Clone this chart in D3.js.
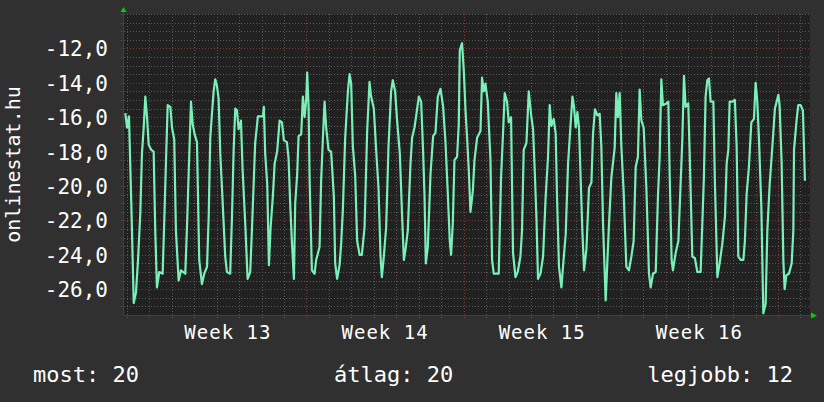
<!DOCTYPE html>
<html>
<head>
<meta charset="utf-8">
<script src="https://cdn.jsdelivr.net/npm/d3@7"></script>
<style>
body { margin: 0; background: #303030; }
svg { display: block; }
text { font-family: "DejaVu Sans Mono", monospace; fill: #ffffff; }
</style>
</head>
<body>
<div id="chart"></div>
<script>
// series: hours since the start of the graph, and the measured value at that time
var startTime = Date.UTC( 2011, 2, 26, 21, 0 );
var spanHours = 733.2;

var hours = [
	1.4, 3.2, 5.3, 7.8, 10.4, 12.8, 15.0, 17.4, 19.2, 21.0,
	22.8, 24.6, 26.4, 29.2, 31.7, 33.4, 35.2, 37.7, 41.3, 43.0,
	44.9, 46.7, 49.5, 51.3, 53.7, 55.5, 58.4, 60.9, 65.5, 67.3,
	69.1, 71.6, 73.4, 75.5, 78.0, 80.4, 83.3, 85.8, 88.7, 90.5,
	92.2, 94.0, 95.8, 97.5, 99.3, 101.1, 102.9, 104.7, 108.2, 110.0,
	113.5, 115.4, 117.2, 118.9, 120.7, 122.5, 125.0, 126.8, 129.6, 132.1,
	134.9, 136.7, 140.2, 143.1, 148.5, 149.5, 150.9, 153.1, 154.9, 156.7,
	159.1, 161.0, 163.7, 166.3, 168.8, 170.9, 174.1, 175.9, 177.6, 179.4,
	181.6, 183.0, 185.1, 186.6, 189.4, 191.2, 193.0, 194.7, 195.8, 197.3,
	198.4, 200.8, 203.7, 205.4, 209.0, 210.7, 212.6, 214.4, 216.1, 218.6,
	221.4, 224.3, 225.7, 227.8, 230.4, 232.1, 233.9, 236.4, 239.3, 241.1,
	242.8, 244.6, 247.1, 249.2, 251.8, 254.2, 257.1, 259.9, 262.4, 264.1,
	267.0, 269.5, 272.0, 274.2, 275.6, 277.7, 280.2, 282.7, 285.5, 287.3,
	289.8, 291.9, 294.8, 297.3, 299.1, 300.9, 303.3, 306.2, 307.9, 310.5,
	312.6, 315.1, 317.6, 319.7, 321.2, 322.6, 324.7, 327.6, 330.4, 332.9,
	335.4, 338.3, 341.1, 343.6, 346.1, 348.2, 349.6, 351.4, 353.2, 356.0,
	357.8, 358.9, 361.3, 363.2, 365.0, 366.7, 368.5, 370.3, 372.8, 374.6,
	377.4, 381.0, 382.7, 384.5, 386.3, 388.8, 391.7, 393.4, 395.2, 400.5,
	403.0, 405.1, 406.9, 409.4, 411.2, 413.7, 415.8, 418.4, 420.8, 423.7,
	425.4, 427.2, 430.1, 432.6, 435.2, 437.2, 439.0, 440.8, 442.5, 445.1,
	447.9, 450.7, 453.2, 455.0, 456.8, 459.3, 461.4, 462.8, 464.9, 467.5,
	469.2, 472.1, 474.6, 477.1, 479.3, 481.0, 482.8, 484.6, 486.3, 487.8,
	489.9, 491.7, 494.2, 497.0, 499.6, 501.3, 503.4, 506.0, 508.4, 510.2,
	512.0, 514.8, 516.7, 518.4, 520.9, 524.4, 526.2, 527.9, 529.8, 531.6,
	534.0, 536.9, 539.7, 542.3, 544.7, 546.9, 549.3, 551.1, 553.0, 555.4,
	558.3, 561.1, 562.9, 565.4, 568.3, 570.7, 572.5, 574.3, 576.0, 579.7,
	581.8, 583.2, 585.3, 586.7, 589.6, 592.5, 594.9, 596.7, 598.5, 600.3,
	603.1, 604.9, 607.4, 610.2, 612.8, 616.3, 618.1, 619.8, 621.6, 623.5,
	625.2, 627.0, 629.9, 631.6, 634.2, 636.6, 639.5, 642.3, 644.1, 645.9,
	647.3, 650.2, 652.9, 654.8, 656.6, 659.1, 662.0, 663.6, 665.5, 667.9,
	670.5, 673.3, 675.1, 676.9, 678.6, 681.2, 683.3, 685.8, 687.6, 690.1,
	692.2, 693.6, 695.7, 699.4, 700.7, 702.9, 704.7, 706.1, 707.9, 710.7,
	713.6, 715.4, 716.1, 719.0, 720.7, 723.2, 725.6, 727.8
];

var values = [
	-15.76, -16.6, -15.95, -21.0, -26.8, -26.2, -24.3, -21.6, -18.1, -16.65,
	-14.8, -16.0, -17.6, -17.9, -18.0, -22.6, -25.9, -25.0, -25.1, -22.1,
	-18.5, -15.3, -15.4, -16.6, -17.3, -22.6, -25.5, -24.9, -25.1, -22.4,
	-19.3, -15.1, -16.4, -17.0, -17.45, -24.3, -25.7, -25.1, -24.7, -21.8,
	-17.2, -15.8, -14.5, -13.8, -14.15, -14.9, -18.1, -20.1, -24.1, -25.0,
	-25.1, -21.8, -17.9, -15.5, -15.6, -16.7, -16.2, -19.1, -22.2, -25.4,
	-25.0, -22.6, -17.5, -15.95, -15.95, -15.4, -18.1, -19.9, -24.6, -22.4,
	-20.6, -18.7, -18.0, -16.2, -16.3, -17.35, -17.45, -18.4, -21.0, -23.2,
	-25.4, -21.0, -19.3, -17.1, -17.0, -14.8, -16.0, -15.0, -13.4, -15.4,
	-19.7, -24.9, -25.1, -24.3, -23.55, -19.7, -17.2, -15.1, -16.6, -17.9,
	-18.0, -20.6, -24.5, -25.4, -24.6, -23.35, -21.4, -17.2, -14.5, -13.5,
	-14.05, -17.7, -19.4, -23.2, -24.0, -24.0, -22.4, -16.8, -13.95, -14.8,
	-15.5, -17.9, -20.1, -24.1, -25.3, -24.1, -22.4, -17.7, -14.5, -13.85,
	-14.5, -16.2, -18.1, -21.8, -24.3, -23.7, -22.6, -18.7, -17.2, -16.6,
	-15.8, -14.8, -15.1, -18.0, -20.6, -24.5, -23.55, -19.3, -17.1, -16.9,
	-14.8, -14.35, -15.4, -17.45, -20.45, -23.2, -24.0, -22.2, -18.5, -18.3,
	-16.4, -12.1, -11.7, -13.3, -15.6, -17.2, -19.1, -21.5, -20.3, -18.5,
	-17.2, -16.8, -13.7, -14.5, -14.05, -15.1, -18.5, -24.3, -25.1, -25.1,
	-19.5, -16.95, -14.6, -15.1, -16.3, -16.0, -23.9, -25.3, -25.0, -24.1,
	-22.6, -17.9, -17.5, -14.5, -15.9, -16.7, -19.1, -21.8, -25.4, -25.1,
	-24.1, -20.6, -18.3, -15.3, -16.5, -16.1, -16.95, -20.6, -24.7, -25.9,
	-24.7, -22.8, -18.7, -16.6, -14.8, -15.4, -16.6, -15.7, -16.6, -19.1,
	-22.6, -24.9, -23.7, -20.1, -19.8, -16.95, -15.55, -15.9, -15.8, -17.7,
	-22.2, -26.65, -24.3, -22.2, -19.5, -17.8, -14.6, -16.0, -14.6, -17.7,
	-20.3, -24.7, -24.9, -24.1, -23.2, -18.9, -18.3, -14.4, -16.2, -16.6,
	-20.1, -25.1, -25.9, -25.1, -25.0, -20.6, -18.3, -13.8, -15.3, -15.2,
	-15.1, -19.3, -24.3, -24.9, -23.9, -23.2, -19.9, -17.35, -13.6, -15.4,
	-15.2, -18.7, -24.1, -24.2, -25.0, -25.0, -22.2, -19.5, -14.8, -13.85,
	-13.75, -15.1, -15.1, -19.9, -25.3, -24.5, -23.35, -21.8, -18.7, -17.9,
	-15.1, -15.1, -15.0, -17.7, -24.1, -24.3, -24.3, -23.2, -20.45, -18.9,
	-16.3, -16.1, -14.0, -15.1, -17.2, -21.2, -27.4, -26.85, -22.6, -19.9,
	-18.3, -17.2, -15.5, -14.7, -15.3, -18.7, -24.3, -26.0, -25.2, -25.1,
	-24.5, -22.6, -17.9, -16.1, -15.3, -15.3, -15.6, -19.7
];

var yDomain = [ -27.5, -10 ];
var yTicks = [ -26, -24, -22, -20, -18, -16, -14, -12 ];
var axisTitle = "onlinestat.hu";
var weekPrefix = "Week ";
var legendNames = [ "most", "átlag", "legjobb" ];
var legendValues = [ 20, 20, 12 ];

// set the dimensions and margins of the graph
var W = 824,
	H = 402;
var margin = {
		top: 14,
		right: 14,
		bottom: 87,
		left: 124
	},
	width = W - margin.left - margin.right,
	height = H - margin.top - margin.bottom;

var t0 = new Date( startTime ),
	t1 = new Date( startTime + spanHours * 3600e3 );

var x = d3.scaleUtc()
	.domain( [ t0, t1 ] )
	.range( [ 0, width ] );

var y = d3.scaleLinear()
	.domain( yDomain )
	.range( [ height, 0 ] );

var locale = d3.formatLocale( {
	decimal: ",",
	thousands: " ",
	grouping: [ 3 ],
	currency: [ "", "" ],
	minus: "-"
} );
var yFormat = locale.format( ".1f" );
var weekFormat = d3.utcFormat( "%V" );

var data = hours.map( function( h, i ) {
	return {
		time: new Date( startTime + h * 3600e3 ),
		value: values[ i ]
	};
} );

var svg = d3.select( "#chart" )
	.append( "svg" )
	.attr( "width", W )
	.attr( "height", H );

svg.append( "rect" )
	.attr( "width", W )
	.attr( "height", H )
	.attr( "fill", "#303030" );

var g = svg.append( "g" )
	.attr( "transform", "translate(" + margin.left + "," + margin.top + ")" );

// plot background
g.append( "rect" )
	.attr( "width", width )
	.attr( "height", height )
	.attr( "fill", "#212121" );

// grid values
var mondays = d3.utcMonday.range( t0, t1 );
var days = d3.utcDay.range( t0, t1 ).filter( function( d ) {
	return d.getUTCDay() !== 1;
} );
var minorY = d3.range( yDomain[ 0 ] + 0.5, yDomain[ 1 ] + 0.01, 0.5 ).filter( function( v ) {
	return yTicks.indexOf( v ) < 0;
} );

var minorColor = "#585858",
	majorColor = "#803a3a";

// minor grid
g.selectAll( ".vminor" )
	.data( days )
	.enter()
	.append( "line" )
	.attr( "class", "vminor" )
	.attr( "x1", function( d ) { return Math.round( x( d ) ) + 0.5; } )
	.attr( "x2", function( d ) { return Math.round( x( d ) ) + 0.5; } )
	.attr( "y1", 0 )
	.attr( "y2", height + 3 )
	.attr( "stroke", minorColor )
	.attr( "stroke-dasharray", "1,2" );

g.selectAll( ".hminor" )
	.data( minorY )
	.enter()
	.append( "line" )
	.attr( "class", "hminor" )
	.attr( "x1", -3 )
	.attr( "x2", width )
	.attr( "y1", function( d ) { return Math.round( y( d ) ) + 0.5; } )
	.attr( "y2", function( d ) { return Math.round( y( d ) ) + 0.5; } )
	.attr( "stroke", minorColor )
	.attr( "stroke-dasharray", "1,2" );

// major grid
g.selectAll( ".vmajor" )
	.data( mondays )
	.enter()
	.append( "line" )
	.attr( "class", "vmajor" )
	.attr( "x1", function( d ) { return Math.round( x( d ) ) + 0.5; } )
	.attr( "x2", function( d ) { return Math.round( x( d ) ) + 0.5; } )
	.attr( "y1", 0 )
	.attr( "y2", height + 3 )
	.attr( "stroke", majorColor )
	.attr( "stroke-dasharray", "1,2" );

g.selectAll( ".hmajor" )
	.data( yTicks )
	.enter()
	.append( "line" )
	.attr( "class", "hmajor" )
	.attr( "x1", -3 )
	.attr( "x2", width )
	.attr( "y1", function( d ) { return Math.round( y( d ) ) + 0.5; } )
	.attr( "y2", function( d ) { return Math.round( y( d ) ) + 0.5; } )
	.attr( "stroke", majorColor )
	.attr( "stroke-dasharray", "1,2" );

// the data line
var line = d3.line()
	.x( function( d ) { return x( d.time ); } )
	.y( function( d ) { return y( d.value ); } );

g.append( "path" )
	.datum( data )
	.attr( "d", line )
	.attr( "fill", "none" )
	.attr( "stroke", "#7af0b8" )
	.attr( "stroke-width", 2.2 )
	.attr( "stroke-linejoin", "round" );

// axes lines
g.append( "line" )
	.attr( "x1", -0.5 )
	.attr( "x2", -0.5 )
	.attr( "y1", -4 )
	.attr( "y2", height )
	.attr( "stroke", "#404040" );
g.append( "line" )
	.attr( "x1", 0 )
	.attr( "x2", width + 4 )
	.attr( "y1", height + 0.5 )
	.attr( "y2", height + 0.5 )
	.attr( "stroke", "#404040" );

// arrows
g.append( "path" )
	.attr( "d", "M-3.5,-2 L2.5,-2 L-0.5,-7 Z" )
	.attr( "fill", "#00d000" );
g.append( "path" )
	.attr( "d", "M" + ( width + 1 ) + "," + ( height - 2.5 ) + " L" + ( width + 1 ) + "," + ( height + 3.5 ) + " L" + ( width + 7 ) + "," + ( height + 0.5 ) + " Z" )
	.attr( "fill", "#00d000" );

// y labels
g.selectAll( ".ylabel" )
	.data( yTicks )
	.enter()
	.append( "text" )
	.attr( "class", "ylabel" )
	.attr( "x", -16 )
	.attr( "y", function( d ) { return y( d ) + 8; } )
	.attr( "text-anchor", "end" )
	.style( "font-size", "21px" )
	.text( function( d ) { return yFormat( d ); } );

// week labels, centred between the monday lines
var weekMids = mondays.map( function( d ) {
	return new Date( +d + 3.5 * 864e5 );
} ).filter( function( d ) {
	return d < t1;
} );

g.selectAll( ".xlabel" )
	.data( weekMids )
	.enter()
	.append( "text" )
	.attr( "class", "xlabel" )
	.attr( "x", function( d ) { return x( d ); } )
	.attr( "y", height + 24 )
	.attr( "text-anchor", "middle" )
	.style( "font-size", "19px" )
	.style( "letter-spacing", "1px" )
	.text( function( d ) { return weekPrefix + ( +weekFormat( d ) ); } );

// axis title
svg.append( "text" )
	.attr( "transform", "translate(20," + ( margin.top + height / 2 ) + ") rotate(-90)" )
	.attr( "text-anchor", "middle" )
	.style( "font-size", "20px" )
	.text( axisTitle );

// legend
var legendX = [ 33, 334, 793 ];
var legendAnchor = [ "start", "start", "end" ];
svg.selectAll( ".legend" )
	.data( legendNames )
	.enter()
	.append( "text" )
	.attr( "class", "legend" )
	.attr( "x", function( d, i ) { return legendX[ i ]; } )
	.attr( "y", 382 )
	.attr( "text-anchor", function( d, i ) { return legendAnchor[ i ]; } )
	.style( "font-size", "22px" )
	.text( function( d, i ) { return d + ": " + legendValues[ i ]; } );
</script>
</body>
</html>
